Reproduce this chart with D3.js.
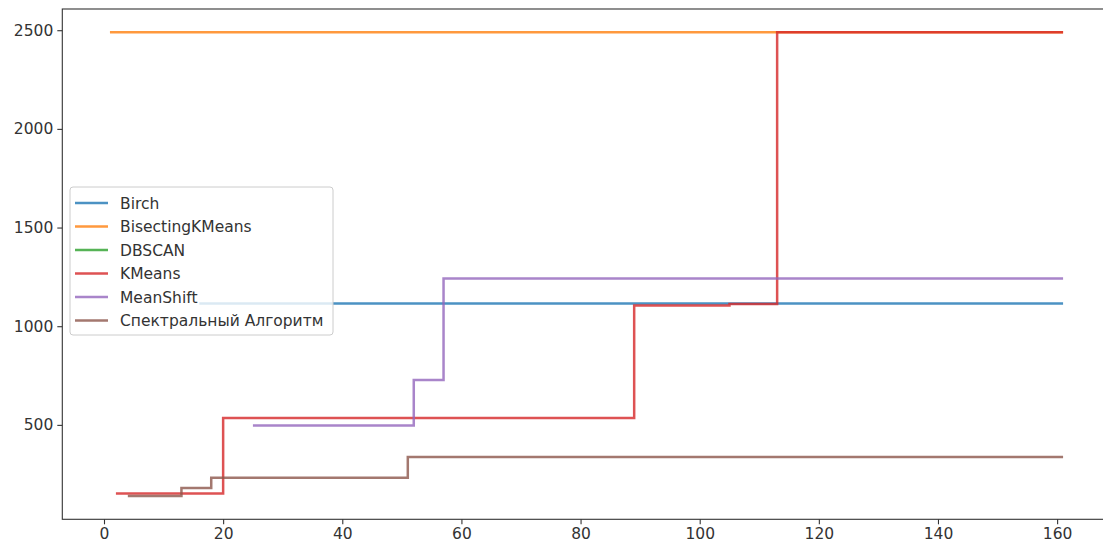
<!DOCTYPE html>
<html><head><meta charset="utf-8">
<script src="https://cdn.jsdelivr.net/npm/d3@7"></script>
<style>body{margin:0;background:#fff;} svg{display:block;}</style>
</head><body>
<svg id="c" width="1103" height="544"></svg>
<script>
// ---- data ----
const seriesNames = ["Birch", "BisectingKMeans", "DBSCAN", "KMeans", "MeanShift", "Спектральный Алгоритм"];
const seriesColors = ["#1f77b4", "#ff7f0e", "#2ca02c", "#d62728", "#9467bd", "#8c564b"];
const birchX = [16, 161];
const birchY = [1115, 1115];
const bisectingX = [1, 161];
const bisectingY = [2490, 2490];
const dbscanX = [];
const dbscanY = [];
const kmeansX = [2, 20, 89, 105, 113, 161];
const kmeansY = [152, 535, 1105, 1112, 2490, 2490];
const meanshiftX = [25, 52, 57, 161];
const meanshiftY = [497, 728, 1242, 1242];
const spectralX = [4, 13, 18, 51, 161];
const spectralY = [140, 180, 232, 337, 337];
const xTicks = [0, 20, 40, 60, 80, 100, 120, 140, 160];
const yTicks = [500, 1000, 1500, 2000, 2500];

const seriesX = [birchX, bisectingX, dbscanX, kmeansX, meanshiftX, spectralX];
const seriesY = [birchY, bisectingY, dbscanY, kmeansY, meanshiftY, spectralY];

// ---- layout ----
const pLeft = 62.3, pTop = 9, pBottom = 519.3;
const x = d3.scaleLinear().domain([-7, 169]).range([pLeft, pLeft + 176 * 5.957]);
const y = d3.scaleLinear().domain([21.5, 2607.5]).range([pBottom, pTop]);

const svg = d3.select("#c");
const font = "DejaVu Sans, sans-serif";

const line = d3.line().x(d => x(d[0])).y(d => y(d[1])).curve(d3.curveStepAfter);
const g = svg.append("g");
seriesX.forEach((xs, i) => {
  const pts = xs.map((v, j) => [v, seriesY[i][j]]);
  if (!pts.length) return;
  g.append("path").attr("d", line(pts)).attr("fill", "none")
    .attr("stroke", seriesColors[i]).attr("stroke-opacity", 0.8)
    .attr("stroke-width", 2.5).attr("stroke-linejoin", "miter");
});

// axes
const xAxis = d3.axisBottom(x).tickValues(xTicks).tickSize(5).tickPadding(4).tickFormat(d3.format("d"));
const yAxis = d3.axisLeft(y).tickValues(yTicks).tickSize(5).tickPadding(4).tickFormat(d3.format("d"));
const gx = svg.append("g").attr("transform", `translate(0,${pBottom})`).call(xAxis);
const gy = svg.append("g").attr("transform", `translate(${pLeft},0)`).call(yAxis);
[gx, gy].forEach(a => {
  a.select(".domain").remove();
  a.selectAll("text").attr("font-family", font).attr("font-size", 15.5).attr("fill", "#333");
  a.selectAll("line").attr("stroke", "#333").attr("stroke-width", 1.1);
});
// spines
const W = x(169);
svg.append("rect").attr("x", pLeft).attr("y", pTop).attr("width", W - pLeft).attr("height", pBottom - pTop)
  .attr("fill", "none").attr("stroke", "#333").attr("stroke-width", 1.1);

// legend
const lg = svg.append("g").attr("transform", "translate(70,187)");
lg.append("rect").attr("x", 0).attr("y", 0).attr("width", 263).attr("height", 148).attr("rx", 3)
  .attr("fill", "#fff").attr("fill-opacity", 0.8).attr("stroke", "#cccccc").attr("stroke-width", 1);
seriesNames.forEach((n, i) => {
  const yy = 16 + i * 23.5;
  lg.append("line").attr("x1", 5).attr("x2", 38).attr("y1", yy).attr("y2", yy)
    .attr("stroke", seriesColors[i]).attr("stroke-opacity", 0.8).attr("stroke-width", 2.5);
  lg.append("text").attr("x", 50).attr("y", yy + 5.5).text(n)
    .attr("font-family", font).attr("font-size", 15.5).attr("fill", "#333");
});
</script>
</body></html>
